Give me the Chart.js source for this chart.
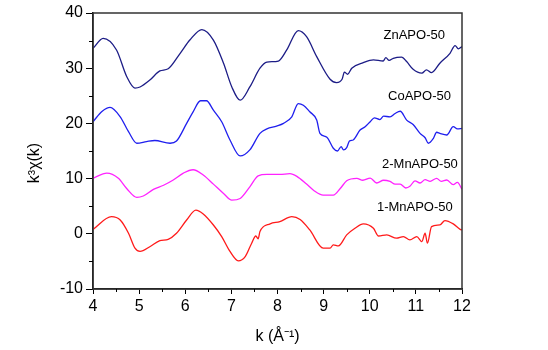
<!DOCTYPE html>
<html>
<head>
<meta charset="utf-8">
<script src="https://cdn.jsdelivr.net/npm/chart.js@4"></script>
<style>
  html, body { margin: 0; padding: 0; background: #fff; }
  #wrap { width: 548px; height: 350px; }
</style>
</head>
<body>
<div id="wrap"><canvas id="chart" width="548" height="350"></canvas></div>
<script>
// values (k in 1/A, k^3 chi(k))
const znK = [4, 4.22, 4.51, 4.73, 4.91, 5.02, 5.24, 5.45, 5.63, 5.89, 6.1, 6.36, 6.61, 6.83, 7.01, 7.19, 7.4, 7.62, 7.77, 8.02, 8.2, 8.45, 8.63, 8.85, 9.14, 9.28, 9.4, 9.45, 9.52, 9.61, 9.86, 10.08, 10.29, 10.35, 10.42, 10.51, 10.69, 10.8, 10.94, 11.13, 11.23, 11.34, 11.52, 11.74, 11.85, 11.92, 12];
const znV = [33.6, 35.4, 33.3, 28.5, 26.4, 26.6, 27.9, 29.5, 29.9, 32.7, 35.1, 37.0, 35.1, 30.9, 26.6, 24.2, 26.6, 30.0, 31.1, 31.3, 33.3, 36.8, 35.7, 32.1, 28.0, 27.4, 28.0, 29.3, 28.9, 30.0, 31.0, 31.5, 31.3, 31.9, 31.4, 31.8, 32.0, 31.2, 29.8, 29.1, 29.7, 29.2, 30.9, 32.7, 34.1, 33.5, 33.9];

const coK = [4, 4.2, 4.37, 4.59, 4.77, 4.95, 5.16, 5.34, 5.67, 5.81, 6.03, 6.17, 6.33, 6.46, 6.61, 6.79, 6.97, 7.19, 7.4, 7.62, 7.77, 7.98, 8.13, 8.31, 8.45, 8.56, 8.7, 8.85, 8.92, 9.07, 9.21, 9.3, 9.38, 9.43, 9.5, 9.56, 9.64, 9.79, 9.9, 10.01, 10.1, 10.22, 10.3, 10.44, 10.55, 10.66, 10.8, 10.94, 11.09, 11.2, 11.27, 11.38, 11.45, 11.52, 11.67, 11.81, 11.9, 12];
const coV = [20.3, 22.2, 22.9, 21.2, 18.5, 16.4, 16.7, 16.9, 16.4, 16.8, 20.0, 22.1, 24.1, 24.1, 22.4, 20.3, 17.0, 14.1, 15.2, 18.2, 19.0, 19.5, 20.0, 21.2, 23.6, 23.3, 22.1, 20.6, 18.2, 17.5, 15.5, 15.0, 15.8, 15.2, 15.6, 16.8, 17.0, 18.8, 19.4, 20.3, 21.0, 20.7, 21.3, 21.2, 21.8, 22.2, 20.6, 19.8, 18.2, 17.4, 16.4, 17.3, 18.4, 18.2, 17.9, 19.4, 19.0, 19.1];

const mn2K = [4, 4.3, 4.55, 4.73, 4.95, 5.09, 5.31, 5.53, 5.74, 5.96, 6.17, 6.39, 6.61, 6.83, 7.01, 7.19, 7.4, 7.58, 7.77, 8.05, 8.27, 8.42, 8.63, 8.78, 8.99, 9.21, 9.36, 9.5, 9.72, 9.85, 10.01, 10.15, 10.3, 10.44, 10.55, 10.66, 10.78, 10.87, 10.98, 11.09, 11.2, 11.31, 11.45, 11.55, 11.67, 11.81, 11.9, 12];
const mn2V = [10.05, 11.0, 10.05, 8.2, 6.6, 6.85, 8.05, 8.8, 9.75, 11.0, 11.6, 10.65, 9.0, 7.3, 6.1, 6.4, 8.5, 10.5, 10.75, 10.75, 10.9, 10.4, 9.0, 7.9, 7.0, 7.0, 8.2, 9.6, 10.05, 9.7, 10.1, 9.2, 9.7, 9.5, 9.0, 9.0, 8.3, 8.6, 9.6, 9.2, 9.8, 9.5, 10.05, 9.5, 9.75, 8.9, 9.3, 8.05];

const mn1K = [4, 4.4, 4.59, 4.77, 4.91, 5.02, 5.24, 5.45, 5.63, 5.81, 6.03, 6.23, 6.39, 6.61, 6.79, 6.97, 7.15, 7.3, 7.44, 7.53, 7.58, 7.62, 7.84, 8.05, 8.31, 8.49, 8.7, 8.99, 9.14, 9.21, 9.32, 9.5, 9.68, 9.86, 10.08, 10.19, 10.37, 10.58, 10.73, 10.87, 11.02, 11.13, 11.2, 11.25, 11.34, 11.52, 11.63, 11.81, 11.96, 12];
const mn1V = [0.8, 3.1, 2.5, 0.1, -2.6, -3.2, -2.3, -1.25, -1.0, 0.1, 2.5, 4.3, 3.6, 1.6, -0.5, -3.2, -4.9, -4.15, -1.7, -0.4, -0.9, 0.4, 1.8, 2.2, 3.1, 2.6, 0.7, -2.6, -2.6, -2.0, -2.2, -0.2, 1.0, 1.8, 1.0, -0.4, -0.2, -0.8, -0.5, -1.1, -0.5, -1.4, 0.1, -1.7, 1.3, 1.6, 2.4, 1.8, 0.8, 0.7];

const seriesNames = ["ZnAPO-50", "CoAPO-50", "2-MnAPO-50", "1-MnAPO-50"];
const seriesColors = ["#1c1c86", "#1f1fee", "#ff22ff", "#ff1a1a"];

function toPoints(ks, vs) {
  return ks.map((k, i) => ({ x: k, y: vs[i] }));
}

// series labels, anchored by their right end in data coordinates
const seriesLabels = [
  { text: "ZnAPO-50", x: 11.63, y: 36.0 },
  { text: "CoAPO-50", x: 11.76, y: 24.8 },
  { text: "2-MnAPO-50", x: 11.91, y: 12.6 },
  { text: "1-MnAPO-50", x: 11.8, y: 4.7 }
];

const frame = {
  id: "frame",
  afterDraw(chart) {
    const ctx = chart.ctx;
    const a = chart.chartArea;
    const xs = chart.scales.x;
    const ys = chart.scales.y;
    ctx.save();
    // box
    ctx.strokeStyle = "#333";
    ctx.lineWidth = 1.5;
    ctx.strokeRect(a.left, a.top, a.right - a.left, a.bottom - a.top);
    // minor ticks
    ctx.strokeStyle = "#000";
    ctx.lineWidth = 1;
    ctx.beginPath();
    for (let v = 4.5; v < 12; v += 1) {
      const px = Math.round(xs.getPixelForValue(v)) + 0.5;
      ctx.moveTo(px, a.bottom);
      ctx.lineTo(px, a.bottom + 3);
    }
    for (let v = -5; v < 40; v += 10) {
      const py = Math.round(ys.getPixelForValue(v)) + 0.5;
      ctx.moveTo(a.left, py);
      ctx.lineTo(a.left - 4, py);
    }
    ctx.stroke();
    // series labels
    ctx.fillStyle = "#000";
    ctx.font = "13px 'Liberation Sans', Arial, sans-serif";
    ctx.textAlign = "right";
    ctx.textBaseline = "middle";
    seriesLabels.forEach(l => {
      ctx.fillText(l.text, xs.getPixelForValue(l.x), ys.getPixelForValue(l.y));
    });
    // axis titles
    ctx.font = "16px 'Liberation Sans', Arial, sans-serif";
    ctx.textAlign = "center";
    ctx.fillText("k (\u00c5\u207b\u00b9)", (a.left + a.right) / 2, 337);
    ctx.translate(35, 163);
    ctx.rotate(-Math.PI / 2);
    ctx.fillText("k\u00b3\u03c7(k)", 0, 0);
    ctx.restore();
  }
};

new Chart(document.getElementById("chart"), {
  type: "line",
  data: {
    datasets: [
      { label: seriesNames[0], data: toPoints(znK, znV), borderColor: seriesColors[0] },
      { label: seriesNames[1], data: toPoints(coK, coV), borderColor: seriesColors[1] },
      { label: seriesNames[2], data: toPoints(mn2K, mn2V), borderColor: seriesColors[2] },
      { label: seriesNames[3], data: toPoints(mn1K, mn1V), borderColor: seriesColors[3] }
    ].map(d => Object.assign(d, { borderWidth: 1.3, pointRadius: 0, cubicInterpolationMode: "monotone", fill: false }))
  },
  options: {
    responsive: false,
    animation: false,
    layout: { padding: { top: 13, right: 86, left: 0, bottom: 0 } },
    plugins: { legend: { display: false }, tooltip: { enabled: false } },
    scales: {
      x: {
        type: "linear",
        min: 4,
        max: 12,
        afterFit(s) { s.height = 61; },
        ticks: { stepSize: 1, color: "#000", padding: 3, maxRotation: 0,
                 font: { size: 16, family: "'Liberation Sans', Arial, sans-serif" } },
        grid: { drawOnChartArea: false, tickLength: 5, color: "#000" },
        border: { color: "#000", width: 1.5 }
      },
      y: {
        min: -10,
        max: 40,
        afterFit(s) { s.width = 93; },
        ticks: { stepSize: 10, color: "#000", padding: 3,
                 font: { size: 16, family: "'Liberation Sans', Arial, sans-serif" } },
        grid: { drawOnChartArea: false, tickLength: 7, color: "#000" },
        border: { color: "#000", width: 1.5 }
      }
    }
  },
  plugins: [frame]
});
</script>
</body>
</html>
